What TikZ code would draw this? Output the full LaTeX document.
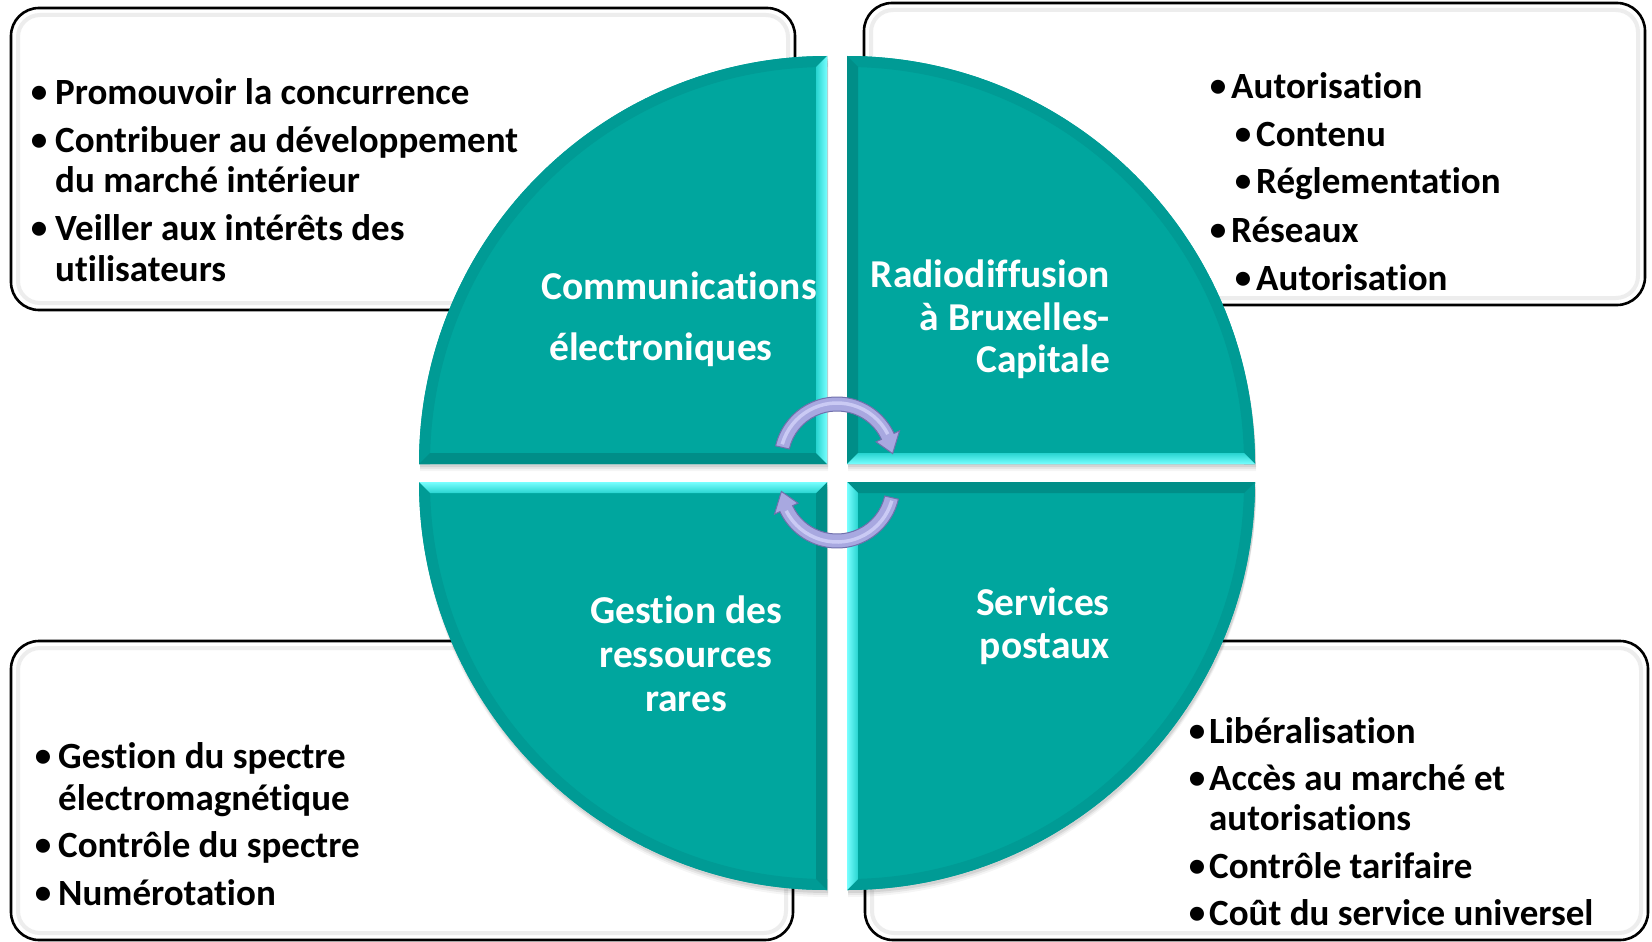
\documentclass[tikz,border=0pt]{standalone}
\usepackage{fontspec}
\setmainfont{Carlito}[Ligatures=NoCommon]
\usetikzlibrary{arrows.meta}
\definecolor{teal1}{RGB}{0,166,158}
\definecolor{tealdark}{RGB}{0,142,136}
\definecolor{tealring}{RGB}{0,155,149}
\definecolor{cyanlit}{RGB}{120,255,255}
\definecolor{cyanmid}{RGB}{40,212,208}
\definecolor{lav}{RGB}{168,168,224}
\definecolor{lavdark}{RGB}{112,112,172}
\definecolor{lavlight}{RGB}{202,202,244}
\begin{document}
\begin{tikzpicture}[x=1pt,y=-1pt,
  box/.style={draw=black, line width=2.6pt, fill=white, rounded corners=28pt},
  boxin/.style={draw=black!7, line width=4pt, rounded corners=22pt},
  bul/.style={font=\fontsize{37}{44}\selectfont\bfseries, text=black, inner sep=0pt, anchor=base west},
  dotb/.style={font=\fontsize{33}{44}\selectfont\bfseries, text=black, inner sep=0pt, anchor=base, yshift=1.5pt},
  lab/.style={font=\fontsize{39.5}{44}\selectfont\bfseries, text=white, inner sep=0pt},
  qshadow/.style={fill=black, opacity=#1},
  arrowbody/.style={fill=lav, draw=lavdark, line width=1pt},
  arrowhl/.style={draw=lavlight, line width=3.5pt}
]
\useasboundingbox (0,0) rectangle (1652,942);
\fill[white] (0,0) rectangle (1652,942);

% ---------- boxes ----------
\draw[box] (11,8) rectangle (795,310);
\draw[boxin] (18,15) rectangle (788,303);
\draw[box] (864,3) rectangle (1645,305);
\draw[boxin] (871,10) rectangle (1638,298);
\draw[box] (11,641) rectangle (793,940);
\draw[boxin] (18,648) rectangle (786,933);
\draw[box] (865,641) rectangle (1648,940);
\draw[boxin] (872,648) rectangle (1641,933);

% ---------- quadrant shadows ----------
\foreach \d/\o in {7/0.04,5/0.06,3/0.08}{
  \fill[qshadow=\o, shift={(1,\d)}] (827,464) -- (419,464) arc[start angle=180,end angle=270,radius=408] -- cycle;
  \fill[qshadow=\o, shift={(1,\d)}] (847,464) -- (847,56) arc[start angle=270,end angle=360,radius=408] -- cycle;
  \fill[qshadow=\o, shift={(1,\d)}] (827,482) -- (827,890) arc[start angle=90,end angle=180,radius=408] -- cycle;
  \fill[qshadow=\o, shift={(1,\d)}] (847,482) -- (1255,482) arc[start angle=0,end angle=90,radius=408] -- cycle;
}

% ---------- TL quadrant ----------
\fill[teal1] (827,464) -- (419,464) arc[start angle=180,end angle=270,radius=408] -- cycle;
\fill[tealring] (419,464) arc[start angle=180,end angle=270,radius=408] -- (827,67) arc[start angle=270,end angle=180,radius=397] -- cycle;
\fill[tealdark] (419,464) -- (827,464) -- (816,453) -- (430,453) -- cycle;
\shade[left color=cyanmid, right color=cyanlit] (827,56) -- (827,464) -- (816,453) -- (816,67) -- cycle;

% ---------- TR quadrant ----------
\fill[teal1] (847,464) -- (847,56) arc[start angle=270,end angle=360,radius=408] -- cycle;
\fill[tealring] (847,56) arc[start angle=270,end angle=360,radius=408] -- (1244,464) arc[start angle=360,end angle=270,radius=397] -- cycle;
\fill[tealdark] (847,464) -- (847,56) -- (858,67) -- (858,453) -- cycle;
\shade[top color=cyanmid, bottom color=cyanlit] (847,464) -- (1255,464) -- (1244,453) -- (858,453) -- cycle;

% ---------- BL quadrant ----------
\fill[teal1] (827,482) -- (827,890) arc[start angle=90,end angle=180,radius=408] -- cycle;
\fill[tealring] (827,890) arc[start angle=90,end angle=180,radius=408] -- (430,482) arc[start angle=180,end angle=90,radius=397] -- cycle;
\fill[tealdark] (827,482) -- (827,890) -- (816,879) -- (816,493) -- cycle;
\shade[top color=cyanlit, bottom color=cyanmid] (827,482) -- (419,482) -- (430,493) -- (816,493) -- cycle;

% ---------- BR quadrant ----------
\fill[teal1] (847,482) -- (1255,482) arc[start angle=0,end angle=90,radius=408] -- cycle;
\fill[tealring] (1255,482) arc[start angle=0,end angle=90,radius=408] -- (847,879) arc[start angle=90,end angle=0,radius=397] -- cycle;
\fill[tealdark] (847,482) -- (1255,482) -- (1244,493) -- (858,493) -- cycle;
\shade[left color=cyanlit, right color=cyanmid] (847,482) -- (847,890) -- (858,879) -- (858,493) -- cycle;

% ---------- circular arrows ----------
\coordinate (ca) at (837,460);
\coordinate (cb) at (837,485);
\path[arrowbody] ([shift={(ca)}]193:63) arc[start angle=193,end angle=335,radius=63]
  -- ([shift={(ca)}]335:69) -- ([shift={(ca)}]353.4:56) -- ([shift={(ca)}]335:43)
  -- ([shift={(ca)}]335:49) arc[start angle=335,end angle=193,radius=49] -- cycle;
\draw[arrowhl] ([shift={(ca)}]196:57) arc[start angle=196,end angle=333,radius=57];
\path[arrowbody] ([shift={(cb)}]13:63) arc[start angle=13,end angle=155,radius=63]
  -- ([shift={(cb)}]155:69) -- ([shift={(cb)}]173.4:56) -- ([shift={(cb)}]155:43)
  -- ([shift={(cb)}]155:49) arc[start angle=155,end angle=13,radius=49] -- cycle;
\draw[arrowhl] ([shift={(cb)}]16:57) arc[start angle=16,end angle=153,radius=57];

% ---------- quadrant labels ----------
\node[lab, anchor=base west] (q1a) at (541,299) {Communications};
\node[lab, anchor=base west] (q1b) at (549,360) {électroniques};
\node[lab, anchor=base east] (q2a) at (1110,287) {Radiodiffusion};
\node[lab, anchor=base east] (q2b) at (1110,330) {à Bruxelles-};
\node[lab, anchor=base east] (q2c) at (1110,372) {Capitale};
\node[lab, anchor=base] (q3a) at (686,623) {Gestion des};
\node[lab, anchor=base] (q3b) at (686,667) {ressources};
\node[lab, anchor=base] (q3c) at (686,711) {rares};
\node[lab, anchor=base east] (q4a) at (1110,615) {Services};
\node[lab, anchor=base east] (q4b) at (1110,658) {postaux};

% ---------- TL box text ----------
\node[dotb] (d11) at (39,104) {•};
\node[bul] (t11) at (55,104) {Promouvoir la concurrence};
\node[dotb] (d12) at (39,152) {•};
\node[bul] (t12) at (55,152) {Contribuer au développement};
\node[bul] (t13) at (55,192) {du marché intérieur};
\node[dotb] (d14) at (39,240) {•};
\node[bul] (t14) at (55,240) {Veiller aux intérêts des};
\node[bul] (t15) at (55,281) {utilisateurs};

% ---------- TR box text ----------
\node[dotb] (d21) at (1218,98) {•};
\node[bul] (t21) at (1231,98) {Autorisation};
\node[dotb] (d22) at (1243,146) {•};
\node[bul] (t22) at (1256,146) {Contenu};
\node[dotb] (d23) at (1243,193) {•};
\node[bul] (t23) at (1256,193) {Réglementation};
\node[dotb] (d24) at (1218,242) {•};
\node[bul] (t24) at (1231,242) {Réseaux};
\node[dotb] (d25) at (1243,290) {•};
\node[bul] (t25) at (1256,290) {Autorisation};

% ---------- BL box text ----------
\node[dotb] (d31) at (43,768) {•};
\node[bul] (t31) at (58,768) {Gestion du spectre};
\node[bul] (t32) at (58,810) {électromagnétique};
\node[dotb] (d33) at (43,857) {•};
\node[bul] (t33) at (58,857) {Contrôle du spectre};
\node[dotb] (d34) at (43,905) {•};
\node[bul] (t34) at (58,905) {Numérotation};

% ---------- BR box text ----------
\node[dotb] (d41) at (1197,743) {•};
\node[bul] (t41) at (1209,743) {Libéralisation};
\node[dotb] (d42) at (1197,790) {•};
\node[bul] (t42) at (1209,790) {Accès au marché et};
\node[bul] (t43) at (1209,830) {autorisations};
\node[dotb] (d44) at (1197,878) {•};
\node[bul] (t44) at (1209,878) {Contrôle tarifaire};
\node[dotb] (d45) at (1197,925) {•};
\node[bul] (t45) at (1209,925) {Coût du service universel};
\end{tikzpicture}
\end{document}
